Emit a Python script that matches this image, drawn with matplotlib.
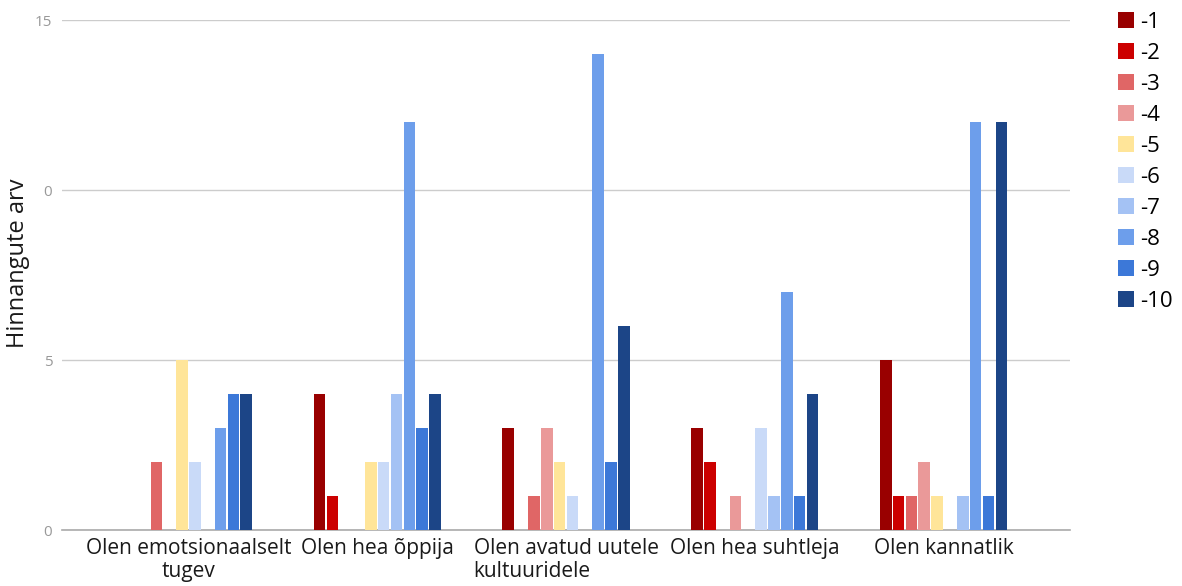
import matplotlib
matplotlib.use("Agg")
import matplotlib.pyplot as plt
import numpy as np
from matplotlib.patches import Patch

plt.rcParams['font.family'] = ['Open Sans', 'DejaVu Sans']

categories = ["Olen emotsionaalselt\ntugev", "Olen hea õppija",
              "Olen avatud uutele\nkultuuridele", "Olen hea suhtleja", "Olen kannatlik"]
series_names = ["-1", "-2", "-3", "-4", "-5", "-6", "-7", "-8", "-9", "-10"]
# values per series across categories
s1 = [0, 4, 3, 3, 5]
s2 = [0, 1, 0, 2, 1]
s3 = [2, 0, 1, 0, 1]
s4 = [0, 0, 3, 1, 2]
s5 = [5, 2, 2, 0, 1]
s6 = [2, 2, 1, 3, 0]
s7 = [0, 4, 0, 1, 1]
s8 = [3, 12, 14, 7, 12]
s9 = [4, 3, 2, 1, 1]
s10 = [4, 4, 6, 4, 12]
series = [s1, s2, s3, s4, s5, s6, s7, s8, s9, s10]
colors = ["#990000", "#cc0000", "#e06666", "#ea9999", "#ffe599",
          "#c9daf8", "#a4c2f4", "#6d9eeb", "#3c78d8", "#1c4587"]
ytick_vals = [0, 5, 10, 15]
ytick_labels = ["0", "5", "0", "15"]

fig = plt.figure(figsize=(11.82, 5.86), dpi=100)
ax = fig.add_axes([62/1182, 1-530/586, (1070-62)/1182, (530-20)/586])

x = np.arange(len(categories))
slot = 0.068
for i, (vals, c) in enumerate(zip(series, colors)):
    ax.bar(x + (i - 4.5) * slot, vals, width=slot * 0.9, color=c, zorder=3)

ax.set_xlim(-0.67, 4.67)
ax.set_ylim(0, 15)
ax.set_yticks(ytick_vals)
ax.set_yticklabels(ytick_labels)
ax.yaxis.grid(True, color="#cccccc", linewidth=1)
ax.set_axisbelow(True)
for s in ["left", "right", "top"]:
    ax.spines[s].set_visible(False)
ax.spines["bottom"].set_color("#aaaaaa")
ax.spines["bottom"].set_linewidth(1.2)
ax.tick_params(axis="y", length=0, labelsize=11, labelcolor="#999999", pad=7)
ax.tick_params(axis="x", length=0, labelsize=15, labelcolor="#1a1a1a", pad=6)
ax.set_xticks(x)
ax.set_xticklabels(categories, linespacing=1.1)
labs = ax.get_xticklabels()
labs[2].set_multialignment("left")

fig.text(18/1182, 1-263/586, "Hinnangute arv", rotation=90, fontsize=17,
         color="#1a1a1a", ha="center", va="center")

handles = [Patch(facecolor=c, edgecolor="none") for c in colors]
fig.legend(handles, series_names, loc="upper left", bbox_to_anchor=(1098/1182, 1+8/586),
           frameon=False, fontsize=16, handlelength=0.7, handleheight=0.7,
           handletextpad=0.3, labelspacing=0.45)

fig.savefig("out.png", dpi=100)
